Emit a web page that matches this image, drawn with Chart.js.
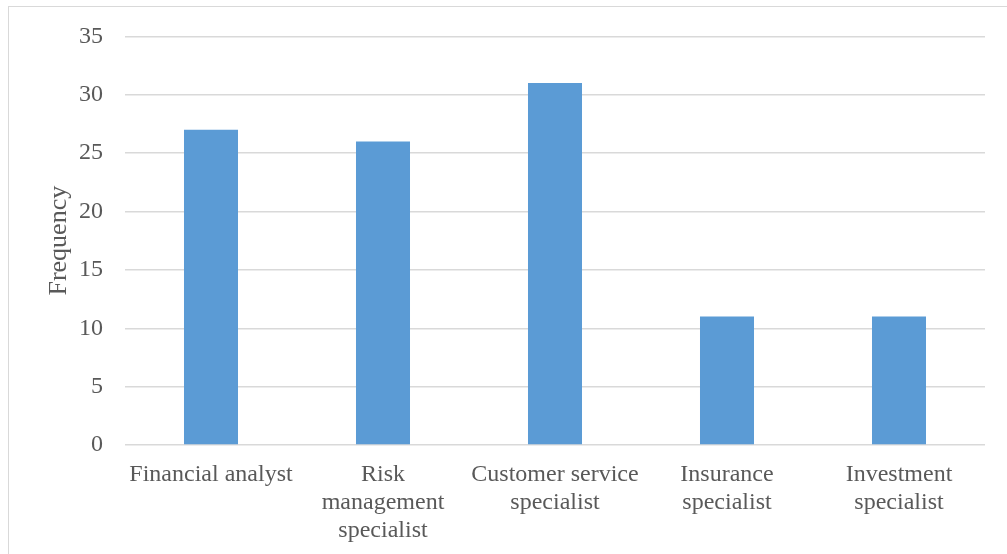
<!DOCTYPE html>
<html>
<head>
<meta charset="utf-8">
<script src="https://cdn.jsdelivr.net/npm/chart.js@4"></script>
<style>
  html, body { margin: 0; padding: 0; background: #fff; overflow: hidden; }
  #frame { position: absolute; left: 8px; top: 6px; width: 1020px; height: 570px; border: 1px solid #d9d9d9; }
  #wrap { position: absolute; left: 0; top: 0; width: 1007px; height: 554px; }
</style>
</head>
<body>
<div id="frame"></div>
<div id="wrap"><canvas id="FreqChart" width="1007" height="554"></canvas></div>
<script>
var Jobs = [
	"Financial analyst",
	["Risk", "management", "specialist"],
	["Customer service", "specialist"],
	["Insurance", "specialist"],
	["Investment", "specialist"]
];
var Counts = [27, 26, 31, 11, 11];
var YTicks = [0, 5, 10, 15, 20, 25, 30, 35];

var TextGray = "#595959";
var SerifFont = "'Liberation Serif', 'Times New Roman', serif";

var FData = {
	labels: Jobs,
	datasets: [{
		label: "Frequency",
		backgroundColor: "#5B9BD5",
		borderWidth: 0,
		barPercentage: 0.314,
		categoryPercentage: 1.0,
		data: Counts
	}]
};

var ctx = document.getElementById("FreqChart").getContext("2d");

var FreqChart = new Chart(ctx, {
	type: "bar",
	data: FData,
	options: {
		responsive: false,
		animation: false,
		layout: { padding: { left: 0, right: 22, top: 36, bottom: 0 } },
		plugins: {
			legend: { display: false },
			tooltip: { enabled: false }
		},
		scales: {
			x: {
				grid: { display: false },
				border: { display: false },
				ticks: {
					color: TextGray,
					font: { family: SerifFont, size: 24, lineHeight: 1.17 },
					padding: 8,
					maxRotation: 0,
					autoSkip: false
				},
				afterFit: function(scale) { scale.height = 109; }
			},
			y: {
				min: 0,
				max: 35,
				afterBuildTicks: function(scale) {
					scale.ticks = YTicks.map(function(v) { return { value: v }; });
				},
				grid: { color: "#d9d9d9", lineWidth: 1.5, drawTicks: false },
				border: { display: false },
				ticks: {
					color: TextGray,
					font: { family: SerifFont, size: 24 },
					padding: 22
				},
				title: {
					display: true,
					text: "Frequency",
					color: TextGray,
					font: { family: SerifFont, size: 26 },
					padding: { top: 44, bottom: 0 }
				},
				afterFit: function(scale) { scale.width = 125; }
			}
		}
	}
});
</script>
</body>
</html>
